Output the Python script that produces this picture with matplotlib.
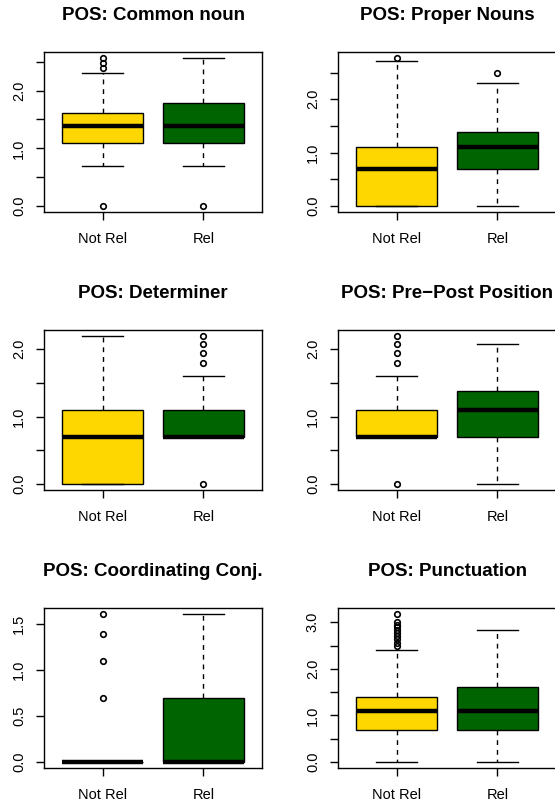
import numpy as np
import matplotlib.pyplot as plt

plt.rcParams['font.family'] = ['Liberation Sans', 'DejaVu Sans']

# log counts per POS tag
titles = ["POS: Common noun", "POS: Proper Nouns",
          "POS: Determiner", "POS: Pre\u2212Post Position",
          "POS: Coordinating Conj.", "POS: Punctuation"]
groups = ["Not Rel", "Rel"]

# (whislo, q1, med, q3, whishi) for Not Rel / Rel
not_rel_stats = [
    (0.693, 1.099, 1.386, 1.609, 2.303),
    (0.0, 0.0, 0.693, 1.099, 2.708),
    (0.0, 0.0, 0.693, 1.099, 2.197),
    (0.693, 0.693, 0.693, 1.099, 1.609),
    (0.0, 0.0, 0.0, 0.0, 0.0),
    (0.0, 0.693, 1.099, 1.386, 2.398),
]
rel_stats = [
    (0.693, 1.099, 1.386, 1.792, 2.565),
    (0.0, 0.693, 1.099, 1.386, 2.303),
    (0.693, 0.693, 0.693, 1.099, 1.609),
    (0.0, 0.693, 1.099, 1.386, 2.079),
    (0.0, 0.0, 0.0, 0.693, 1.609),
    (0.0, 0.693, 1.099, 1.609, 2.833),
]
not_rel_outliers = [
    [0.0, 2.398, 2.485, 2.565],
    [2.773],
    [],
    [0.0, 1.792, 1.946, 2.079, 2.197],
    [0.693, 1.099, 1.386, 1.609],
    [2.485, 2.565, 2.639, 2.708, 2.773, 2.833, 2.890, 2.944, 2.996, 3.178],
]
rel_outliers = [
    [0.0],
    [2.485],
    [0.0, 1.792, 1.946, 2.079, 2.197],
    [],
    [],
    [],
]

yticks = [
    [0.0, 0.5, 1.0, 1.5, 2.0, 2.5],
    [0.0, 0.5, 1.0, 1.5, 2.0, 2.5],
    [0.0, 0.5, 1.0, 1.5, 2.0],
    [0.0, 0.5, 1.0, 1.5, 2.0],
    [0.0, 0.5, 1.0, 1.5],
    [0.0, 0.5, 1.0, 1.5, 2.0, 2.5, 3.0],
]
ytick_labels = [
    ["0.0", "", "1.0", "", "2.0", ""],
    ["0.0", "", "1.0", "", "2.0", ""],
    ["0.0", "", "1.0", "", "2.0"],
    ["0.0", "", "1.0", "", "2.0"],
    ["0.0", "0.5", "1.0", "1.5"],
    ["0.0", "", "1.0", "", "2.0", "", "3.0"],
]

colors = ["#FFD700", "#006400"]

W, H = 555, 806
fig = plt.figure(figsize=(W / 100, H / 100), dpi=100)

col_left = [44, 338]
row_top = [52, 330, 608]
ax_w, ax_h = 218, 160


def make_stats(s, fl):
    return dict(whislo=s[0], q1=s[1], med=s[2], q3=s[3], whishi=s[4], fliers=fl)


for i in range(6):
    r, c = divmod(i, 2)
    ax = fig.add_axes([col_left[c] / W, 1 - (row_top[r] + ax_h) / H, ax_w / W, ax_h / H])
    stats = [make_stats(not_rel_stats[i], not_rel_outliers[i]),
             make_stats(rel_stats[i], rel_outliers[i])]
    bp = ax.bxp(stats, positions=[1, 2], widths=0.8, capwidths=0.4,
                patch_artist=True, showfliers=True,
                boxprops=dict(edgecolor='black', linewidth=1.0),
                medianprops=dict(color='black', linewidth=3.2, solid_capstyle='butt'),
                whiskerprops=dict(color='black', linewidth=1.0, linestyle=(0, (3.5, 3.5))),
                capprops=dict(color='black', linewidth=1.0),
                flierprops=dict(marker='o', markersize=4.0, markerfacecolor='none',
                                markeredgecolor='black', markeredgewidth=1.2))
    for patch, col in zip(bp['boxes'], colors):
        patch.set_facecolor(col)

    all_vals = list(not_rel_stats[i]) + list(rel_stats[i]) + not_rel_outliers[i] + rel_outliers[i]
    lo, hi = min(all_vals), max(all_vals)
    pad = 0.04 * (hi - lo)
    ax.set_ylim(lo - pad, hi + pad)
    ax.set_xlim(0.42, 2.58)

    ax.set_xticks([1, 2])
    ax.set_xticklabels(groups)
    ax.set_yticks(yticks[i])
    ax.set_yticklabels(ytick_labels[i], rotation=90, va='center')
    ax.tick_params(axis='both', direction='out', length=6, width=1.0, labelsize=10.5)
    ax.tick_params(axis='x', pad=8.5)
    ax.tick_params(axis='y', pad=7)
    for sp in ax.spines.values():
        sp.set_linewidth(1.0)

    ax.text(0.5, 1 + 36 / ax_h, titles[i], transform=ax.transAxes,
            ha='center', va='center', fontsize=13.5, fontweight='bold')

fig.savefig('out.png', dpi=100)
